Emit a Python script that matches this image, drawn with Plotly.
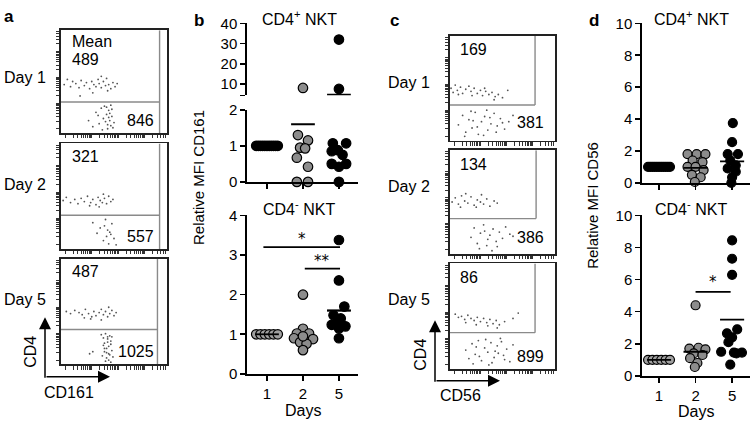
import math
import plotly.graph_objects as go

W, H = 752, 428
FONT = "Liberation Sans, Arial, Helvetica, sans-serif"

# ---------------- data ----------------
day_labels = ["1", "2", "5"]
day_pos = [1, 2, 3]

# Panel b, CD4+ NKT (relative MFI CD161)
b_pos_d1_y = [1, 1, 1, 1, 1, 1, 1, 1, 1, 1, 1]
b_pos_d1_dx = [-0.3, -0.24, -0.18, -0.12, -0.06, 0, 0.06, 0.12, 0.18, 0.24, 0.3]
b_pos_d2_y = [8.0, 1.3, 1.15, 0.95, 0.93, 0.67, 0.42, 0, 0]
b_pos_d2_dx = [0, -0.14, 0.14, -0.08, 0.06, -0.17, 0.14, -0.17, 0.14]
b_pos_d5_y = [32, 7.5, 1.07, 1.07, 0.88, 0.85, 0.75, 0.5, 0.5, 0.42, 0]
b_pos_d5_dx = [0, 0, -0.17, 0.2, -0.03, -0.2, 0.1, -0.2, 0.2, 0.0, 0]
b_pos_means = [1.0, 1.6, 4.7]

# Panel b, CD4- NKT
b_neg_d1_y = [1, 1, 1, 1, 1, 1]
b_neg_d1_dx = [-0.3, -0.18, -0.06, 0.06, 0.18, 0.3]
b_neg_d2_y = [2.0, 1.14, 1.02, 1.02, 0.9, 0.88, 0.8, 0.76, 0.6, 0.95]
b_neg_d2_dx = [0, 0, -0.17, 0.17, -0.25, 0.28, -0.08, 0.1, 0, 0]
b_neg_d5_y = [3.38, 2.36, 1.7, 1.48, 1.4, 1.3, 1.24, 1.2, 1.15, 0.9]
b_neg_d5_dx = [0, 0, 0.15, -0.15, 0.05, -0.05, -0.2, 0.18, 0, 0]
b_neg_means = [1.0, 0.95, 1.6]
b_neg_sig = [(1, 3, 3.2, "*"), (2, 3, 2.66, "**")]

# Panel d, CD4+ NKT (relative MFI CD56)
d_pos_d1_y = [1, 1, 1, 1, 1, 1, 1, 1, 1, 1, 1]
d_pos_d1_dx = [-0.3, -0.24, -0.18, -0.12, -0.06, 0, 0.06, 0.12, 0.18, 0.24, 0.3]
d_pos_d2_y = [1.8, 1.8, 1.8, 1.4, 1.3, 1.0, 1.0, 0.8, 0.5, 0.35, 0.05]
d_pos_d2_dx = [-0.22, 0.03, 0.27, -0.08, 0.19, -0.22, 0.0, 0.22, -0.1, 0.14, -0.02]
d_pos_d5_y = [3.75, 2.55, 1.8, 1.8, 1.4, 1.1, 0.9, 0.7, 0.35, 0.0]
d_pos_d5_dx = [0.02, 0, -0.12, 0.16, -0.05, 0.1, -0.12, 0.1, 0, -0.02]
d_pos_means = [1.0, 0.94, 1.35]

# Panel d, CD4- NKT
d_neg_d1_y = [1, 1, 1, 1, 1, 1]
d_neg_d1_dx = [-0.3, -0.18, -0.06, 0.06, 0.18, 0.3]
d_neg_d2_y = [4.4, 1.7, 1.75, 1.65, 1.4, 1.3, 1.1, 0.8, 0.55]
d_neg_d2_dx = [0, -0.17, 0.08, 0.27, -0.05, 0.19, -0.15, 0.05, -0.02]
d_neg_d5_y = [8.45, 7.3, 6.3, 2.9, 2.65, 2.4, 2.1, 1.5, 1.45, 1.45, 1.4, 0.7]
d_neg_d5_dx = [0, 0, 0, 0.14, -0.14, 0, -0.1, -0.3, 0.05, 0.27, 0.12, -0.05]
d_neg_means = [1.0, 1.5, 3.5]
d_neg_sig = [(2, 3, 5.24, "*")]

# Flow cytometry panels: mean fluorescence values and event positions (box-normalised)
a_days = ["Day 1", "Day 2", "Day 5"]
a_upper_mfi = ["489", "321", "487"]
a_lower_mfi = ["846", "557", "1025"]
c_upper_mfi = ["169", "134", "86"]
c_lower_mfi = ["381", "386", "899"]

a1_up_x = [0.03,0.06,0.09,0.11,0.14,0.17,0.19,0.22,0.24,0.27,0.29,0.31,0.33,0.35,0.36,0.38,0.40,0.42,0.43,0.45,0.47,0.49,0.51,0.53,0.30,0.44,0.18,0.38]
a1_up_y = [0.47,0.52,0.45,0.50,0.48,0.44,0.51,0.46,0.49,0.43,0.50,0.47,0.45,0.52,0.48,0.44,0.50,0.46,0.53,0.47,0.43,0.49,0.45,0.48,0.39,0.41,0.36,0.55]
a1_lo_x = [0.26,0.30,0.33,0.36,0.38,0.40,0.41,0.43,0.44,0.45,0.46,0.47,0.48,0.49,0.50,0.44,0.46,0.42,0.48,0.39,0.45,0.35,0.47,0.43]
a1_lo_y = [0.12,0.06,0.20,0.09,0.24,0.14,0.26,0.18,0.08,0.22,0.12,0.27,0.16,0.05,0.10,0.04,0.19,0.11,0.23,0.03,0.15,0.17,0.07,0.25]
a2_up_x = [0.02,0.05,0.09,0.13,0.16,0.19,0.22,0.25,0.28,0.30,0.33,0.35,0.37,0.39,0.41,0.43,0.45,0.47,0.49,0.27,0.36,0.40]
a2_up_y = [0.46,0.49,0.44,0.47,0.43,0.48,0.45,0.50,0.44,0.47,0.42,0.49,0.46,0.44,0.48,0.43,0.50,0.45,0.47,0.41,0.40,0.52]
a2_lo_x = [0.30,0.34,0.37,0.40,0.41,0.43,0.44,0.45,0.47,0.48,0.50,0.52,0.42,0.46]
a2_lo_y = [0.25,0.15,0.20,0.08,0.22,0.12,0.18,0.05,0.14,0.24,0.10,0.04,0.28,0.16]
a3_up_x = [0.05,0.09,0.13,0.17,0.20,0.23,0.26,0.29,0.31,0.33,0.36,0.38,0.40,0.42,0.44,0.46,0.48,0.50,0.52,0.28,0.38,0.45,0.22]
a3_up_y = [0.50,0.48,0.51,0.49,0.47,0.52,0.48,0.45,0.50,0.46,0.49,0.52,0.47,0.50,0.45,0.48,0.51,0.46,0.49,0.43,0.42,0.54,0.44]
a3_lo_x = [0.38,0.40,0.41,0.42,0.43,0.44,0.45,0.46,0.47,0.48,0.39,0.41,0.43,0.45,0.47,0.42,0.44,0.46,0.40,0.48,0.43,0.45,0.30,0.27,0.49,0.41,0.44,0.47]
a3_lo_y = [0.28,0.25,0.20,0.29,0.15,0.24,0.10,0.27,0.19,0.13,0.08,0.12,0.06,0.17,0.22,0.03,0.21,0.09,0.18,0.26,0.11,0.04,0.12,0.10,0.07,0.15,0.26,0.02]

c1_up_x = [0.01,0.03,0.05,0.07,0.10,0.12,0.15,0.18,0.20,0.23,0.26,0.29,0.31,0.34,0.37,0.40,0.43,0.46,0.50,0.55,0.08,0.21,0.33,0.42]
c1_up_y = [0.50,0.46,0.53,0.48,0.51,0.45,0.49,0.52,0.47,0.50,0.45,0.48,0.43,0.47,0.44,0.46,0.42,0.44,0.41,0.48,0.44,0.43,0.50,0.39]
c1_lo_x = [0.08,0.12,0.15,0.18,0.21,0.24,0.27,0.30,0.33,0.36,0.39,0.42,0.45,0.48,0.52,0.56,0.60,0.14,0.20,0.26,0.32,0.38,0.44,0.50,0.22,0.35]
c1_lo_y = [0.15,0.24,0.08,0.20,0.12,0.27,0.06,0.18,0.23,0.10,0.16,0.26,0.14,0.21,0.11,0.18,0.24,0.04,0.28,0.13,0.05,0.22,0.08,0.17,0.19,0.29]
c2_up_x = [0.02,0.05,0.08,0.11,0.14,0.17,0.20,0.23,0.26,0.29,0.32,0.35,0.38,0.42,0.45,0.15,0.25,0.30,0.10]
c2_up_y = [0.50,0.54,0.48,0.56,0.51,0.49,0.55,0.47,0.52,0.50,0.48,0.53,0.46,0.51,0.49,0.58,0.45,0.57,0.45]
c2_lo_x = [0.20,0.23,0.26,0.29,0.32,0.35,0.38,0.41,0.44,0.47,0.50,0.53,0.57,0.60,0.28,0.36,0.45,0.33,0.40]
c2_lo_y = [0.16,0.25,0.10,0.20,0.28,0.08,0.18,0.24,0.12,0.21,0.15,0.26,0.19,0.17,0.05,0.14,0.07,0.22,0.03]
c3_up_x = [0.05,0.08,0.11,0.14,0.17,0.20,0.23,0.26,0.29,0.32,0.35,0.38,0.41,0.44,0.47,0.52,0.60,0.65,0.25,0.36,0.45,0.15]
c3_up_y = [0.52,0.49,0.50,0.47,0.51,0.48,0.46,0.49,0.45,0.48,0.44,0.47,0.43,0.46,0.42,0.45,0.48,0.53,0.42,0.41,0.39,0.44]
c3_lo_x = [0.15,0.18,0.21,0.24,0.27,0.30,0.33,0.36,0.39,0.42,0.45,0.48,0.51,0.54,0.57,0.60,0.22,0.28,0.34,0.40,0.46,0.52,0.25,0.37,0.43,0.49]
c3_lo_y = [0.18,0.10,0.24,0.14,0.27,0.08,0.20,0.16,0.25,0.11,0.22,0.29,0.13,0.19,0.07,0.23,0.05,0.12,0.28,0.06,0.15,0.09,0.21,0.04,0.17,0.26]

# ---------------- layout helpers ----------------
fig = go.Figure()
layout = dict(width=W, height=H, margin=dict(l=0, r=0, t=0, b=0),
              paper_bgcolor="white", plot_bgcolor="rgba(0,0,0,0)",
              showlegend=False, font=dict(family=FONT, size=15, color="black"))
shapes, annos = [], []


def sfx(i):
    return "" if i == 1 else str(i)


def add_axes(i, xpx, ypx, xcfg, ycfg):
    layout["xaxis" + sfx(i)] = dict(domain=[xpx[0] / W, xpx[1] / W], anchor="y" + sfx(i), **xcfg)
    layout["yaxis" + sfx(i)] = dict(domain=[1 - ypx[1] / H, 1 - ypx[0] / H], anchor="x" + sfx(i), **ycfg)


def text(x, y, s, size=16, xanchor="center", angle=0, bold=False):
    annos.append(dict(x=x / W, y=1 - y / H, xref="paper", yref="paper", text=("<b>%s</b>" % s) if bold else s,
                      showarrow=False, xanchor=xanchor, yanchor="middle", textangle=angle,
                      font=dict(family=FONT, size=size, color="black")))


# log-like tick positions along the flow-plot edges
flow_ticks = []
for k in range(4):
    base = 0.04 + 0.25 * k
    for m in range(1, 10):
        v = base + 0.25 * math.log10(m)
        if v <= 1.0:
            flow_ticks.append(v)

flow_axis = dict(range=[0, 1], showline=True, mirror=True, linecolor="#222222", linewidth=1.8,
                 ticks="outside", ticklen=3.5, tickwidth=1, tickcolor="#333", tickvals=flow_ticks,
                 showticklabels=False, showgrid=False, zeroline=False, fixedrange=True)


def flow_panel(i, xpx, ypx, upx, upy, lox, loy, gx, gy, c_style):
    add_axes(i, xpx, ypx, dict(flow_axis), dict(flow_axis))
    for xs, ys in ((upx, upy), (lox, loy)):
        fig.add_trace(go.Scatter(x=xs, y=ys, mode="markers", xaxis="x" + sfx(i), yaxis="y" + sfx(i),
                                 marker=dict(size=1.8, color="#555555"), hoverinfo="skip"))
    ln = dict(color="#8a8a8a", width=1.4)
    if c_style:
        shapes.append(dict(type="line", xref="x" + sfx(i), yref="y" + sfx(i), x0=gx, x1=gx, y0=gy, y1=1, line=ln))
    else:
        shapes.append(dict(type="line", xref="x" + sfx(i), yref="y" + sfx(i), x0=gx, x1=gx, y0=0, y1=1, line=ln))
    shapes.append(dict(type="line", xref="x" + sfx(i), yref="y" + sfx(i), x0=0, x1=gx, y0=gy, y1=gy, line=ln))


# ---------------- panel a ----------------
flow_panel(1, (61, 167), (22, 129), a1_up_x, a1_up_y, a1_lo_x, a1_lo_y, 0.93, 0.30, False)
flow_panel(2, (61, 167), (140, 250), a2_up_x, a2_up_y, a2_lo_x, a2_lo_y, 0.93, 0.32, False)
flow_panel(3, (61, 167), (260, 370), a3_up_x, a3_up_y, a3_lo_x, a3_lo_y, 0.91, 0.33, False)

text(2, 8, "a", 17, "left", bold=True)
text(70, 34, "Mean", 16, "left")
for (dy, uy, ly), lab, um, lm in zip(((71, 53, 116), (183, 154, 237), (302, 273, 357)), a_days, a_upper_mfi, a_lower_mfi):
    text(2, dy, lab, 16, "left")
    text(70, uy, um, 16, "left")
    text(156, ly, lm, 16, "right")

arrow = dict(xref="paper", yref="paper", text="", showarrow=True, arrowhead=2, arrowsize=1.6,
             arrowwidth=1.5, arrowcolor="black", axref="pixel", ayref="pixel")
annos.append(dict(arrow, x=45 / W, y=1 - 321 / H, ax=0, ay=62))
annos.append(dict(arrow, x=110 / W, y=1 - 383 / H, ax=-65, ay=0))
text(31, 357, "CD4", 16, angle=-90)
text(69, 399, "CD161", 16)

# ---------------- panel c ----------------
flow_panel(4, (450, 555), (28, 137), c1_up_x, c1_up_y, c1_lo_x, c1_lo_y, 0.81, 0.34, True)
flow_panel(5, (450, 555), (147, 255), c2_up_x, c2_up_y, c2_lo_x, c2_lo_y, 0.82, 0.34, True)
flow_panel(6, (450, 555), (265, 375), c3_up_x, c3_up_y, c3_lo_x, c3_lo_y, 0.81, 0.345, True)

text(388, 12, "c", 17, "left", bold=True)
for (dy, uy, ly), lab, um, lm in zip(((77, 42, 118), (185, 162, 238), (303, 280, 362)), a_days, c_upper_mfi, c_lower_mfi):
    text(386, dy, lab, 16, "left")
    text(458, uy, um, 16, "left")
    text(546, ly, lm, 16, "right")
annos.append(dict(arrow, x=435 / W, y=1 - 324 / H, ax=0, ay=63))
annos.append(dict(arrow, x=500 / W, y=1 - 387 / H, ax=-65, ay=0))
text(421, 360, "CD4", 16, angle=-90)
text(460, 403, "CD56", 16)

# ---------------- dot plots ----------------
GRAY = "#8c8c8c"
DAY1_LIGHT = "#a0a0a0"
dot_line = dict(color="black", width=1.2)
chart_y = dict(showline=True, linecolor="black", linewidth=1.7, ticks="outside", ticklen=5, tickwidth=1.6,
               tickcolor="black", showgrid=False, zeroline=False, tickfont=dict(family=FONT, size=15),
               fixedrange=True)


def chart_x(rng, labels):
    return dict(range=rng, showline=True, linecolor="black", linewidth=1.7, ticks="outside", ticklen=5,
                tickwidth=1.6, tickcolor="black", tickvals=day_pos,
                ticktext=day_labels if labels else ["", "", ""], showticklabels=labels,
                showgrid=False, zeroline=False, tickfont=dict(family=FONT, size=15), fixedrange=True)


def dots(i, pos, ys, dxs, color, size=9.5, keep=lambda v: True):
    xs = [pos + d for d, v in zip(dxs, ys) if keep(v)]
    yy = [v for v in ys if keep(v)]
    fig.add_trace(go.Scatter(x=xs, y=yy, mode="markers", xaxis="x" + sfx(i), yaxis="y" + sfx(i),
                             cliponaxis=False, marker=dict(size=size, color=color, line=dot_line),
                             hoverinfo="skip"))


def mean_line(i, pos, m, half=0.33):
    fig.add_trace(go.Scatter(x=[pos - half, pos + half], y=[m, m], mode="lines", xaxis="x" + sfx(i),
                             yaxis="y" + sfx(i), cliponaxis=False, line=dict(color="black", width=1.8),
                             hoverinfo="skip"))


def sig(i, x0, x1, y, s, yoff):
    fig.add_trace(go.Scatter(x=[x0, x1], y=[y, y], mode="lines", xaxis="x" + sfx(i), yaxis="y" + sfx(i),
                             cliponaxis=False, line=dict(color="black", width=1.8), hoverinfo="skip"))
    annos.append(dict(x=(x0 + x1) / 2, y=y, xref="x" + sfx(i), yref="y" + sfx(i), text=s, showarrow=False,
                      yshift=yoff, font=dict(family="DejaVu Sans, sans-serif", size=15, color="black")))


# panel b, CD4+ (broken axis)
BX = [0.444, 3.53]
BREAK = 4.3
add_axes(7, (247, 358), (15, 90), dict(range=BX, visible=False, fixedrange=True),
         dict(chart_y, range=[BREAK, 40], tickvals=[BREAK, 10, 20, 30, 40], ticktext=["", "10", "20", "30", "40"]))
add_axes(8, (247, 358), (105, 180), chart_x(BX, False),
         dict(chart_y, range=[0, 2], tickvals=[0, 1, 2]))
hi = lambda v: v > BREAK
lo = lambda v: v <= BREAK
for i, keep in ((7, hi), (8, lo)):
    dots(i, 1, b_pos_d1_y, b_pos_d1_dx, "black", keep=keep)
    dots(i, 2, b_pos_d2_y, b_pos_d2_dx, GRAY, keep=keep)
    dots(i, 3, b_pos_d5_y, b_pos_d5_dx, "black", keep=keep)
for pos, m in zip(day_pos, b_pos_means):
    mean_line(7 if m > BREAK else 8, pos, m)

# panel b, CD4-
add_axes(9, (247, 358), (215, 380), chart_x(BX, True), dict(chart_y, range=[0, 4], tickvals=[0, 1, 2, 3, 4]))
dots(9, 1, b_neg_d1_y, b_neg_d1_dx, DAY1_LIGHT)
for pos, m in zip(day_pos, b_neg_means):
    mean_line(9, pos, m)
dots(9, 2, b_neg_d2_y, b_neg_d2_dx, GRAY)
dots(9, 3, b_neg_d5_y, b_neg_d5_dx, "black")
mean_line(9, 3, b_neg_means[2])
for x0, x1, y, s in b_neg_sig:
    sig(9, x0 - 0.1 if x0 == 1 else x0 + 0.05, x1 + 0.03, y, s, 8)

text(192, 12, "b", 17, "left", bold=True)
text(299, 9, "CD4<sup>+</sup> NKT", 16)
text(299, 207, "CD4<sup>-</sup> NKT", 16)
text(198, 175, "Relative MFI CD161", 15, angle=-90)
text(303, 418, "Days", 16)

# panel d
DX = [0.534, 3.49]
add_axes(10, (642, 750), (15, 181), chart_x(DX, False),
         dict(chart_y, range=[0, 10], tickvals=[0, 2, 4, 6, 8, 10]))
dots(10, 1, d_pos_d1_y, d_pos_d1_dx, "black", 9)
dots(10, 2, d_pos_d2_y, d_pos_d2_dx, GRAY, 9)
dots(10, 3, d_pos_d5_y, d_pos_d5_dx, "black", 9)
for pos, m in zip(day_pos, d_pos_means):
    mean_line(10, pos, m)

add_axes(11, (642, 750), (215, 382), chart_x(DX, True),
         dict(chart_y, range=[0, 10], tickvals=[0, 2, 4, 6, 8, 10]))
dots(11, 1, d_neg_d1_y, d_neg_d1_dx, DAY1_LIGHT, 9)
dots(11, 2, d_neg_d2_y, d_neg_d2_dx, GRAY, 9)
dots(11, 3, d_neg_d5_y, d_neg_d5_dx, "black", 9)
for pos, m in zip(day_pos, d_neg_means):
    mean_line(11, pos, m)
for x0, x1, y, s in d_neg_sig:
    sig(11, x0, x1 - 0.04, y, s, 10)

text(587, 12, "d", 17, "left", bold=True)
text(691, 9, "CD4<sup>+</sup> NKT", 16)
text(691, 207, "CD4<sup>-</sup> NKT", 16)
text(593, 205, "Relative MFI CD56", 15, angle=-90)
text(696, 419, "Days", 16)

layout["shapes"] = shapes
layout["annotations"] = annos
fig.update_layout(**layout)
fig.write_html("out.html", config={"displayModeBar": False, "staticPlot": True},
               post_script="document.body.style.margin='0';document.body.style.overflow='hidden';")
